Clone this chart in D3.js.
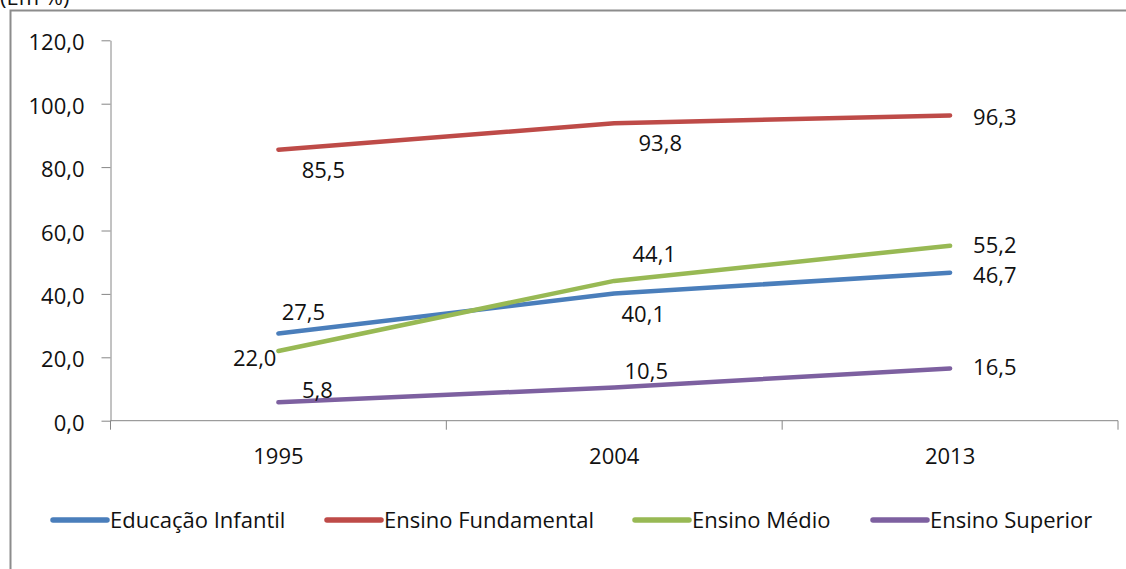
<!DOCTYPE html>
<html>
<head>
<meta charset="utf-8">
<script src="https://cdn.jsdelivr.net/npm/d3@7"></script>
<style>
  body { margin: 0; background: #fff; }
  text { font-family: "Open Sans", sans-serif; fill: #111; }
</style>
</head>
<body>
<div id="container"></div>
<script>
/* DATA */
const years = ["1995", "2004", "2013"];
const seriesNames = ["Educação Infantil", "Ensino Fundamental", "Ensino Médio", "Ensino Superior"];
const infantil = [27.5, 40.1, 46.7];
const fundamental = [85.5, 93.8, 96.3];
const medio = [22.0, 44.1, 55.2];
const superior = [5.8, 10.5, 16.5];
const yTicks = [0, 20, 40, 60, 80, 100, 120];

/* CONSTANTS */
const width = 1126,
  height = 569;
const plotLeft = 110.5, plotRight = 1118, plotTop = 40.3, plotBottom = 420.7;
const colors = ["#4a7ebb", "#be4b48", "#98b954", "#7d60a0"];
const fontSize = 22;

// label offsets from each point: [dx, dy, anchor]
const labelPos = [
  [[25, -13.5, "middle"], [29, 28.5, "middle"], [23, 10.4, "start"]],
  [[45, 28.5, "middle"], [46, 28, "middle"], [23, 10, "start"]],
  [[-2, 15, "end"], [40, -19, "middle"], [23, 7.5, "start"]],
  [[39, -4, "middle"], [32, -8, "middle"], [23, 6.6, "start"]]
];

const series = [infantil, fundamental, medio, superior];
const fmt = d => d3.format(".1f")(d).replace(".", ",");

/* SCALES */
const xScale = d3.scaleBand()
  .domain(years)
  .range([plotLeft, plotRight]);
const xMid = d => xScale(d) + xScale.bandwidth() / 2;

const yScale = d3.scaleLinear()
  .domain([0, 120])
  .range([plotBottom, plotTop]);

/* SVG */
const svg = d3.select("#container")
  .append("svg")
  .attr("width", width)
  .attr("height", height);

// frame
svg.append("path")
  .attr("d", `M10.5,${height} V10.5 H${width}`)
  .attr("fill", "none")
  .attr("stroke", "#8c8c8c")
  .attr("stroke-width", 2);

svg.append("text")
  .attr("x", 0)
  .attr("y", 5)
  .attr("font-size", fontSize)
  .text("(Em %)");

// y axis
const yAxis = d3.axisLeft(yScale)
  .tickValues(yTicks)
  .tickFormat(fmt)
  .tickSize(9)
  .tickSizeOuter(0)
  .tickPadding(17);

const yg = svg.append("g")
  .attr("transform", `translate(${plotLeft},0)`)
  .call(yAxis);
yg.selectAll("line, path").attr("stroke", "#868686");
yg.selectAll("text")
  .attr("font-size", fontSize)
  .attr("font-family", "Open Sans")
  .attr("fill", "#111")
  .attr("dy", "0.44em");

// x axis
const xg = svg.append("g");
xg.append("line")
  .attr("x1", plotLeft).attr("x2", plotRight)
  .attr("y1", plotBottom).attr("y2", plotBottom)
  .attr("stroke", "#868686");
xg.selectAll(".tk")
  .data(years.map(d => xScale(d)).concat([plotRight]))
  .join("line")
  .attr("class", "tk")
  .attr("x1", d => d).attr("x2", d => d)
  .attr("y1", plotBottom).attr("y2", plotBottom + 9)
  .attr("stroke", "#868686");
xg.selectAll(".xl")
  .data(years)
  .join("text")
  .attr("class", "xl")
  .attr("x", d => xMid(d))
  .attr("y", plotBottom + 43)
  .attr("text-anchor", "middle")
  .attr("font-size", fontSize)
  .text(d => d);

// lines
const line = d3.line()
  .x((d, i) => xMid(years[i]))
  .y(d => yScale(d));

svg.selectAll(".series")
  .data(series)
  .join("path")
  .attr("class", "series")
  .attr("d", d => line(d))
  .attr("fill", "none")
  .attr("stroke", (d, i) => colors[i])
  .attr("stroke-width", 4.5)
  .attr("stroke-linecap", "round")
  .attr("stroke-linejoin", "round");

// data labels
series.forEach((vals, s) => {
  svg.selectAll(".lbl" + s)
    .data(vals)
    .join("text")
    .attr("class", "lbl" + s)
    .attr("x", (d, i) => xMid(years[i]) + labelPos[s][i][0])
    .attr("y", (d, i) => yScale(d) + labelPos[s][i][1])
    .attr("text-anchor", (d, i) => labelPos[s][i][2])
    .attr("font-size", fontSize)
    .text(d => fmt(d));
});

// legend
const legendX = [53, 327, 635, 873];
const legend = svg.selectAll(".leg")
  .data(seriesNames)
  .join("g")
  .attr("class", "leg")
  .attr("transform", (d, i) => `translate(${legendX[i]},520)`);
legend.append("line")
  .attr("x1", 0).attr("x2", 54)
  .attr("stroke", (d, i) => colors[i])
  .attr("stroke-width", 5.5)
  .attr("stroke-linecap", "round");
legend.append("text")
  .attr("x", 57)
  .attr("y", 8)
  .attr("font-size", fontSize)
  .text(d => d);
</script>
</body>
</html>
